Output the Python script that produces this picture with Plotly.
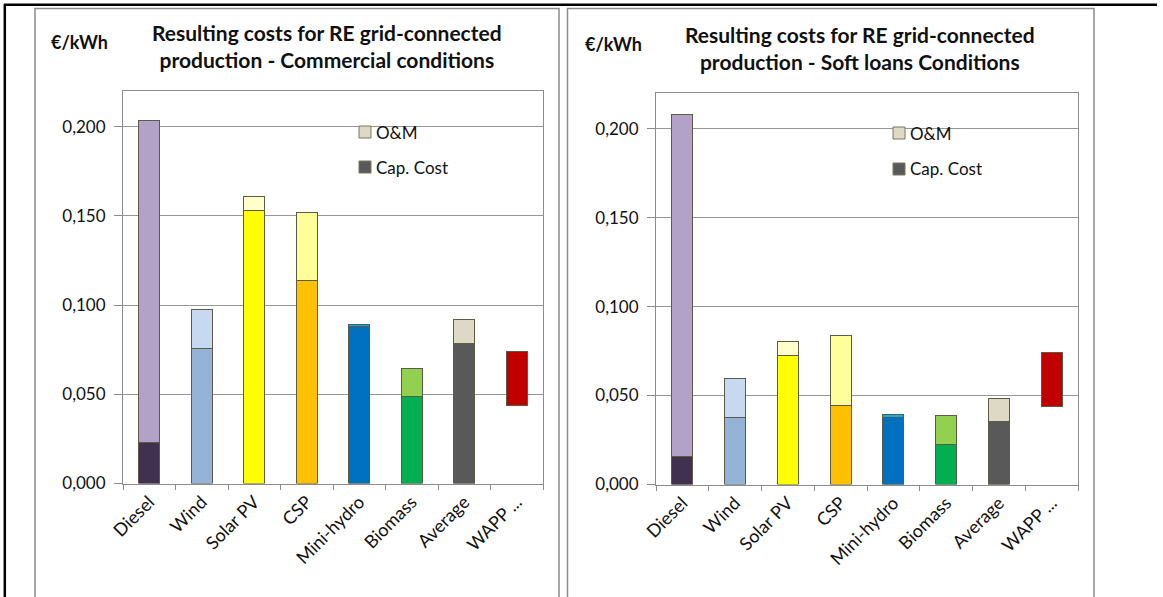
import plotly.graph_objects as go

# ---- data -----------------------------------------------------------------
categories = ["Diesel", "Wind", "Solar PV", "CSP", "Mini-hydro", "Biomass", "Average", "WAPP ..."]

# Commercial conditions (EUR/kWh)
commercial_cap = [0.0230, 0.0756, 0.1529, 0.1137, 0.0880, 0.0487, 0.0787, None]
commercial_om = [0.1804, 0.0218, 0.0081, 0.0383, 0.0014, 0.0160, 0.0135, None]

# Soft loans conditions (EUR/kWh)
soft_cap = [0.0156, 0.0377, 0.0725, 0.0445, 0.0379, 0.0226, 0.0355, None]
soft_om = [0.1922, 0.0217, 0.0076, 0.0394, 0.0013, 0.0161, 0.0129, None]

# WAPP tariff range (low / high)
wapp_commercial = [0.0437, 0.0739]
wapp_soft = [0.0439, 0.0742]

cap_colors = ["#403151", "#95B3D7", "#FFFF00", "#FFC000", "#0070C0", "#00B050", "#595959", "#595959"]
om_colors = ["#B3A2C7", "#C6D9F1", "#FFFFCC", "#FFFF99", "#00B0F0", "#92D050", "#DDD9C4", "#DDD9C4"]
wapp_color = "#C00000"
legend_items = [("O&M", "#DDD9C4"), ("Cap. Cost", "#595959")]

titles = [
    "Resulting costs for RE grid-connected<br>production - Commercial conditions",
    "Resulting costs for RE grid-connected<br>production - Soft loans Conditions",
]

# ---- layout geometry (pixels) --------------------------------------------
W, H = 1163, 597
FONT = "Lato, 'Open Sans', sans-serif"
EDGE = "#5e5a48"


def px(x):
    return x / W


def py(y):
    return 1 - y / H


panels = [
    dict(cap=commercial_cap, om=commercial_om, wapp=wapp_commercial,
         plot=(123, 543, 91, 483.5), frame=(35, 559), title_x=327, title_y=46,
         unit=(79, 42), legend=(359, 132, 167)),
    dict(cap=soft_cap, om=soft_om, wapp=wapp_soft,
         plot=(656, 1078, 93, 484.5), frame=(567.5, 1094), title_x=860, title_y=48,
         unit=(613, 44), legend=(893, 133, 169)),
]

fig = go.Figure()
shapes = []
annotations = []

for i, p in enumerate(panels):
    xa = "x" if i == 0 else "x2"
    ya = "y" if i == 0 else "y2"
    marker_line = dict(color=EDGE, width=1)

    fig.add_trace(go.Bar(x=categories, y=p["cap"], name="Cap. Cost",
                         marker=dict(color=cap_colors, line=marker_line),
                         xaxis=xa, yaxis=ya, showlegend=False))
    fig.add_trace(go.Bar(x=categories, y=p["om"], name="O&M",
                         marker=dict(color=om_colors, line=marker_line),
                         xaxis=xa, yaxis=ya, showlegend=False))
    lo, hi = p["wapp"]
    fig.add_trace(go.Bar(x=[categories[-1]], y=[hi - lo], base=[lo], name="WAPP",
                         marker=dict(color=wapp_color, line=marker_line),
                         xaxis=xa, yaxis=ya, showlegend=False))

    x0, x1, y0, y1 = p["plot"]
    axis_suffix = "" if i == 0 else "2"
    fig.update_layout(**{
        "xaxis" + axis_suffix: dict(
            domain=[px(x0), px(x1)], anchor=ya, type="category",
            categoryorder="array", categoryarray=categories, automargin=False,
            showline=True, linecolor="#8c8c8c", linewidth=1, mirror=True,
            ticks="outside", tickson="boundaries", ticklen=5, tickcolor="#8c8c8c",
            tickangle=-45, tickfont=dict(family=FONT, size=18, color="#111"),
            showgrid=False,
        ),
        "yaxis" + axis_suffix: dict(
            domain=[py(y1), py(y0)], anchor=xa, range=[0, 0.22], dtick=0.05,
            tickformat=".3f", showline=True, linecolor="#8c8c8c", linewidth=1,
            automargin=False, mirror=True, ticks="outside", ticklen=8,
            ticklabelstandoff=5,
            tickcolor="#8c8c8c", showgrid=True, gridcolor="#969696", gridwidth=1,
            zeroline=False, tickfont=dict(family=FONT, size=17, color="#111"),
        ),
    })

    # chart frame
    fx0, fx1 = p["frame"]
    shapes.append(dict(type="rect", xref="paper", yref="paper",
                       x0=px(fx0), x1=px(fx1), y0=py(H + 10), y1=py(8.5),
                       line=dict(color="#8c8c8c", width=1.5), layer="below"))

    # title
    annotations.append(dict(text="<b>" + titles[i] + "</b>", xref="paper", yref="paper",
                            x=px(p["title_x"]), y=py(p["title_y"]), xanchor="center",
                            yanchor="middle", showarrow=False, align="center",
                            font=dict(family=FONT, size=21, color="#111")))
    # unit label
    ux, uy = p["unit"]
    annotations.append(dict(text="<b>€/kWh</b>", xref="paper", yref="paper",
                            x=px(ux), y=py(uy), xanchor="center", yanchor="middle",
                            showarrow=False, font=dict(family=FONT, size=18, color="#111")))

    # legend
    lx, ly_om, ly_cap = p["legend"]
    for (label, color), ly in zip(legend_items, (ly_om, ly_cap)):
        shapes.append(dict(type="rect", xref="paper", yref="paper",
                           x0=px(lx), x1=px(lx + 12), y0=py(ly + 6), y1=py(ly - 6),
                           fillcolor=color, line=dict(color="#7a7660", width=1)))
        annotations.append(dict(text=label, xref="paper", yref="paper",
                                x=px(lx + 15), y=py(ly), xanchor="left", yanchor="middle",
                                showarrow=False,
                                font=dict(family=FONT, size=17, color="#111")))

# outer black frame (top and left edges)
shapes.append(dict(type="line", xref="paper", yref="paper",
                   x0=px(4), x1=px(1157), y0=py(4.8), y1=py(4.8),
                   line=dict(color="#000", width=2.5)))
shapes.append(dict(type="line", xref="paper", yref="paper",
                   x0=px(4.8), x1=px(4.8), y0=py(4), y1=py(H + 5),
                   line=dict(color="#000", width=2.5)))

fig.update_layout(
    template="none",
    width=W, height=H, margin=dict(l=0, r=0, t=0, b=0, pad=0, autoexpand=False),
    paper_bgcolor="white", plot_bgcolor="white",
    barmode="stack", bargap=0.6, separators=",.",
    showlegend=False, shapes=shapes, annotations=annotations,
    font=dict(family=FONT),
)

fig.write_html(
    "out.html",
    config={"displayModeBar": False},
    post_script="document.body.style.margin='0';",
)
